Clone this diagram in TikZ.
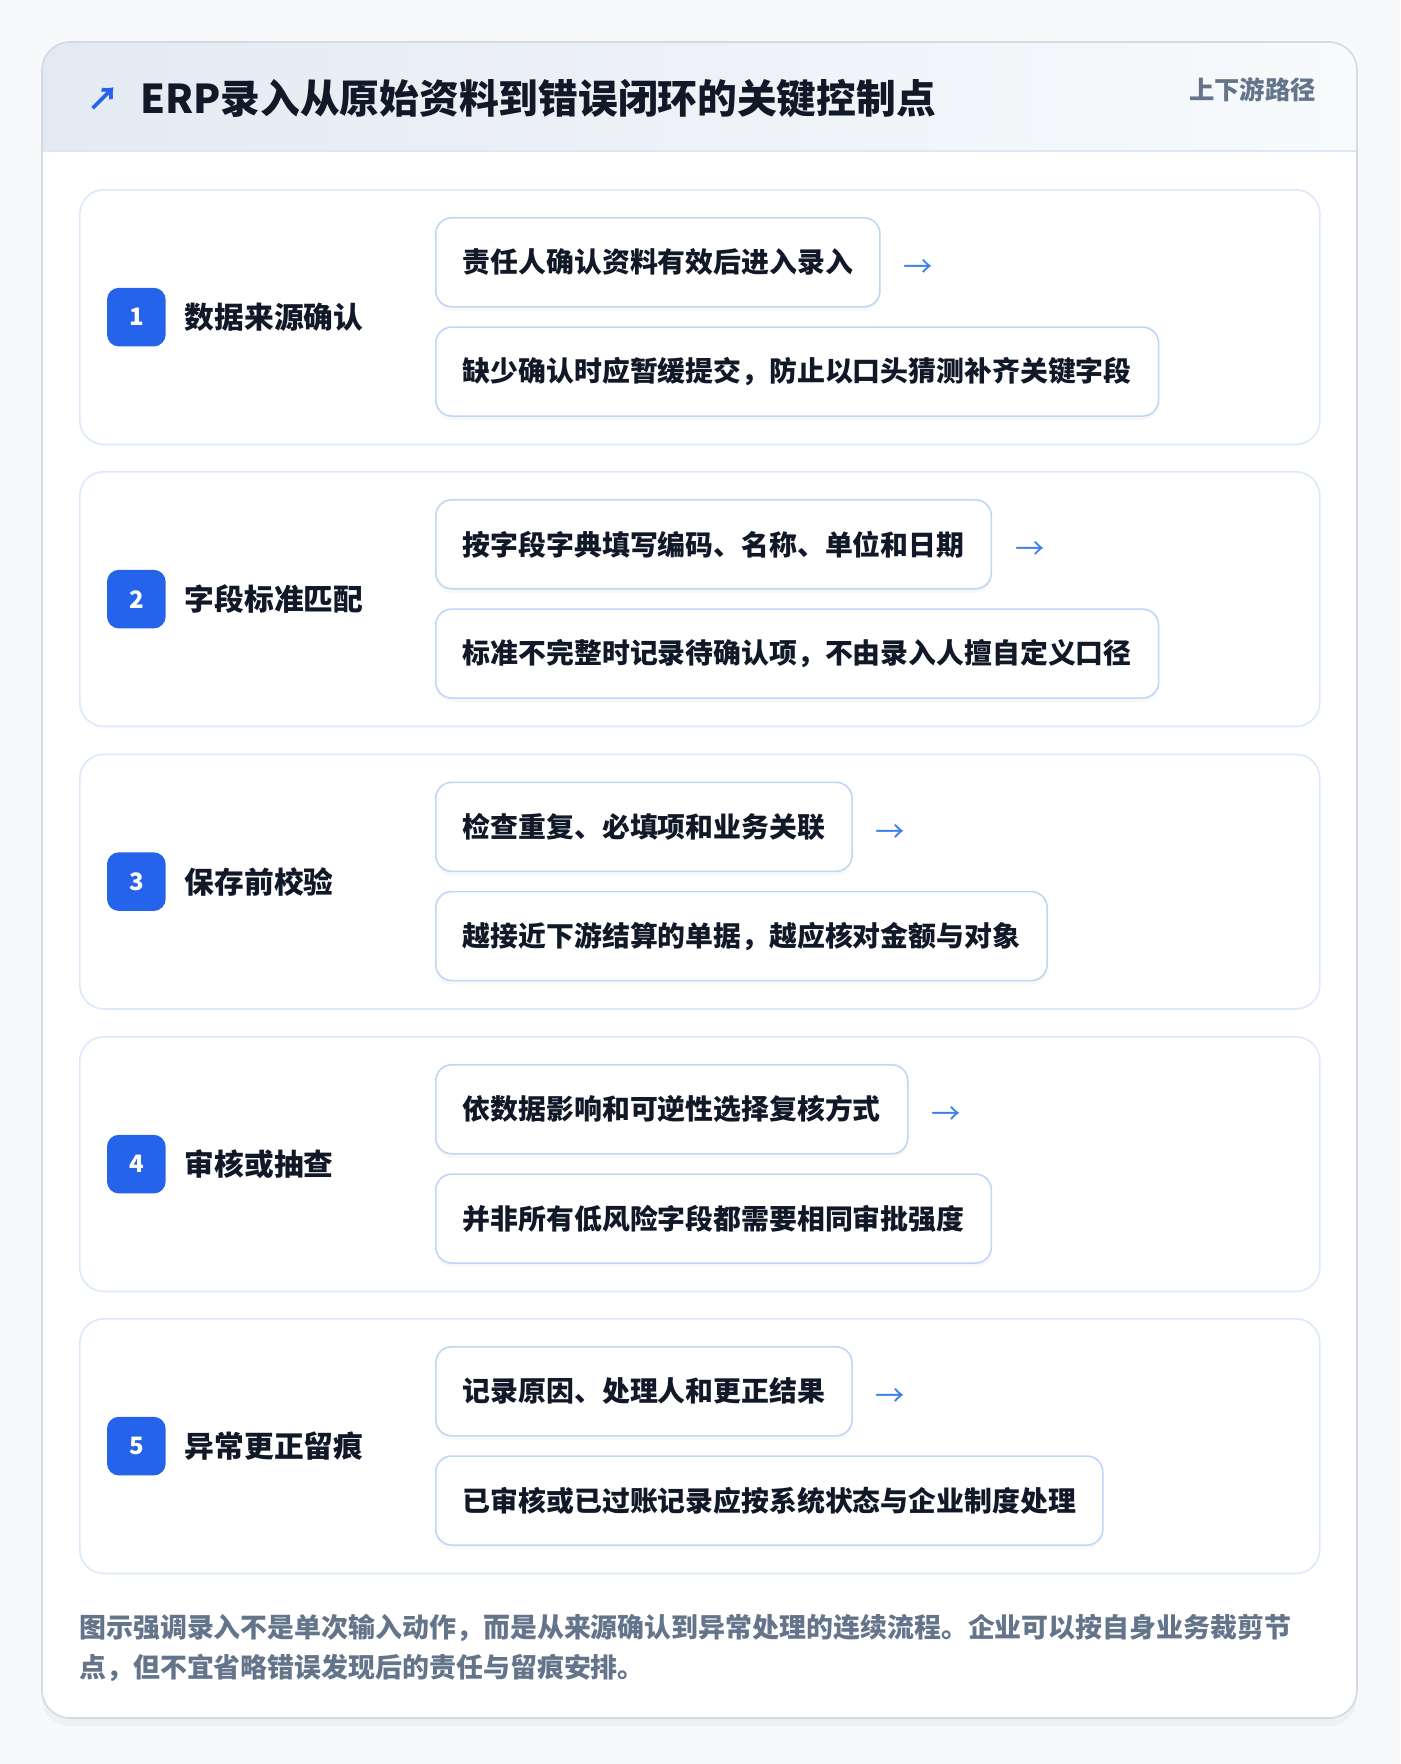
\documentclass[tikz,border=0pt]{standalone}
\usepackage{fontspec}
\setmainfont{Noto Sans CJK SC}
\usetikzlibrary{positioning,shadows}

\definecolor{pagebg}{HTML}{F8F9FB}
\definecolor{cardline}{HTML}{D3DAE4}
\definecolor{headleft}{HTML}{E4EAF2}
\definecolor{headright}{HTML}{F8FAFC}
\definecolor{headline}{HTML}{DCE8F8}
\definecolor{panelline}{HTML}{DCE8FB}
\definecolor{boxline}{HTML}{BFD7F6}
\definecolor{badgeblue}{HTML}{2563EB}
\definecolor{arrowblue}{HTML}{3B7FE8}
\definecolor{inkdark}{HTML}{111827}
\definecolor{inkmuted}{HTML}{64748B}

\begin{document}
\begin{tikzpicture}[x=0.75pt,y=-0.75pt,
    card/.style={rounded corners=21pt},
    panel/.style={draw=panelline,line width=1.2pt,fill=white,rounded corners=18pt,
      minimum width=930pt,minimum height=191pt,inner sep=0pt,anchor=north west},
    badge/.style={fill=badgeblue,rounded corners=9pt,minimum size=44pt,inner sep=0pt,
      text=white,font=\bfseries\fontsize{18}{18}\selectfont},
    steptitle/.style={text=inkdark,inner sep=0pt,font=\bfseries\fontsize{22.3}{26}\selectfont},
    item/.style={draw=boxline,line width=1.2pt,fill=white,rounded corners=12pt,
      minimum height=66.75pt,inner xsep=20.25pt,inner ysep=0pt,text=inkdark,
      font=\bfseries\fontsize{20.9}{25}\selectfont,
      drop shadow={shadow xshift=0pt,shadow yshift=-3pt,opacity=0.05}},
    flow/.style={text=arrowblue,inner sep=0pt,yshift=-5pt,font=\fontsize{22}{22}\selectfont}]
  \useasboundingbox (0,0) rectangle (1400,1764);
  \fill[pagebg] (0,0) rectangle (1400,1764);

  \fill[card,white,drop shadow={shadow xshift=0pt,shadow yshift=-6pt,opacity=0.07}]
    (42,42) rectangle (1357,1718);
  \fill[left color=headleft,right color=headright]
    (42,151) {[rounded corners=21pt] -- (42,42) -- (1357,42)} -- (1357,151) -- cycle;
  \draw[headline,line width=1.2pt] (42,151) -- (1357,151);
  \draw[card,cardline,line width=1.2pt] (42,42) rectangle (1357,1718);

  \node[anchor=west,inner sep=0pt,text=inkdark,font=\bfseries\fontsize{29.8}{34}\selectfont]
    (title) at (140,99) {ERP录入从原始资料到错误闭环的关键控制点};
  \node[left=15pt of title,inner sep=0pt,text=badgeblue,font=\bfseries\fontsize{24}{24}\selectfont]
    (icon) {↗};
  \node[anchor=east,inner sep=0pt,text=inkmuted,font=\bfseries\fontsize{19}{22}\selectfont]
    (path) at (1316,90) {上下游路径};

  \node[panel] (p1) at (79,189) {};
  \node[badge,right=20.8pt of p1.west] (n1) {1};
  \node[steptitle,right=14pt of n1] (t1) {数据来源确认};
  \node[item,below right=21pt and 267pt of p1.north west] (a1) {责任人确认资料有效后进入录入};
  \node[item,below right=14pt and 0pt of a1.south west] (b1) {缺少确认时应暂缓提交，防止以口头猜测补齐关键字段};
  \node[flow,right=17pt of a1] (f1) {→};

  \node[panel] (p2) at (79,471) {};
  \node[badge,right=20.8pt of p2.west] (n2) {2};
  \node[steptitle,right=14pt of n2] (t2) {字段标准匹配};
  \node[item,below right=21pt and 267pt of p2.north west] (a2) {按字段字典填写编码、名称、单位和日期};
  \node[item,below right=14pt and 0pt of a2.south west] (b2) {标准不完整时记录待确认项，不由录入人擅自定义口径};
  \node[flow,right=17pt of a2] (f2) {→};

  \node[panel] (p3) at (79,753.5) {};
  \node[badge,right=20.8pt of p3.west] (n3) {3};
  \node[steptitle,right=14pt of n3] (t3) {保存前校验};
  \node[item,below right=21pt and 267pt of p3.north west] (a3) {检查重复、必填项和业务关联};
  \node[item,below right=14pt and 0pt of a3.south west] (b3) {越接近下游结算的单据，越应核对金额与对象};
  \node[flow,right=17pt of a3] (f3) {→};

  \node[panel] (p4) at (79,1036) {};
  \node[badge,right=20.8pt of p4.west] (n4) {4};
  \node[steptitle,right=14pt of n4] (t4) {审核或抽查};
  \node[item,below right=21pt and 267pt of p4.north west] (a4) {依数据影响和可逆性选择复核方式};
  \node[item,below right=14pt and 0pt of a4.south west] (b4) {并非所有低风险字段都需要相同审批强度};
  \node[flow,right=17pt of a4] (f4) {→};

  \node[panel] (p5) at (79,1318) {};
  \node[badge,right=20.8pt of p5.west] (n5) {5};
  \node[steptitle,right=14pt of n5] (t5) {异常更正留痕};
  \node[item,below right=21pt and 267pt of p5.north west] (a5) {记录原因、处理人和更正结果};
  \node[item,below right=14pt and 0pt of a5.south west] (b5) {已审核或已过账记录应按系统状态与企业制度处理};
  \node[flow,right=17pt of a5] (f5) {→};

  \node[anchor=north west,inner sep=0pt,align=left,text=inkmuted,
    font=\bfseries\fontsize{20.2}{30}\selectfont] (note) at (79,1614)
    {图示强调录入不是单次输入动作，而是从来源确认到异常处理的连续流程。企业可以按自身业务裁剪节\\
     点，但不宜省略错误发现后的责任与留痕安排。};
\end{tikzpicture}
\end{document}
